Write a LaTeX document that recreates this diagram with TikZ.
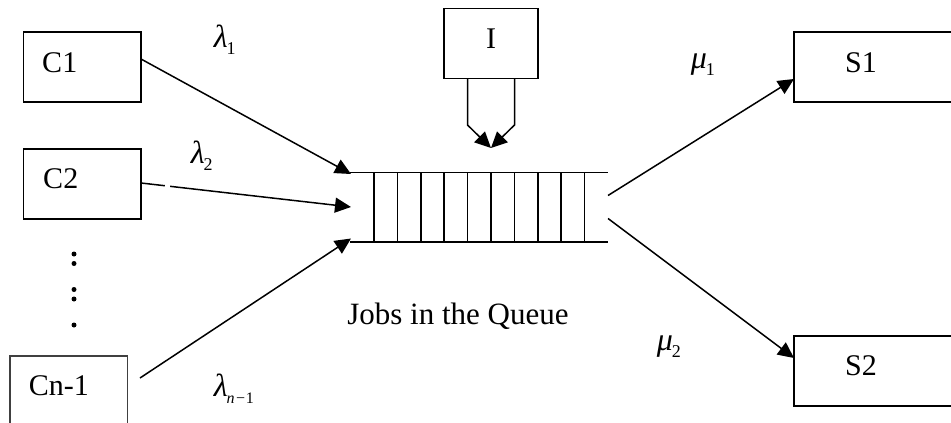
\documentclass[tikz,border=0pt]{standalone}
\usepackage{fontspec}
\setmainfont{Liberation Serif}
\usetikzlibrary{arrows.meta}
\newcommand{\boxtxt}{\fontsize{30}{32}\selectfont}
\newcommand{\greek}[3]{{\fontsize{32}{32}\selectfont\itshape #1}\kern-1pt\raisebox{-7.5pt}{\fontsize{#2}{19}\selectfont #3}}
\tikzset{
  x=1pt,y=-1pt,
  boxn/.style={draw=black,fill=white,inner sep=0pt,outer sep=0pt,anchor=north west},
  cbox/.style={boxn,minimum width=117.5pt,minimum height=70pt},
  sbox/.style={boxn,minimum width=170pt,minimum height=70pt},
  ibox/.style={boxn,minimum width=94pt,minimum height=70pt},
  arr/.style={-{Triangle[length=16pt,width=15pt]}},
  plain/.style={inner sep=0pt,anchor=center,font=\boxtxt,text height=20pt,text depth=0pt},
  gk/.style={inner sep=0pt,anchor=base west},
  qline/.style={line width=1.6pt},
  dotn/.style={circle,fill=black,draw=none,minimum size=5pt,inner sep=0pt}
}
\begin{document}
\begin{tikzpicture}[line width=1.5pt]
\useasboundingbox (0,0) rectangle (951,423);
\fill[white] (0,0) rectangle (951,423);
% boxes
\node[cbox,label={[plain,xshift=-22.5pt,yshift=5pt]center:C1}] (c1) at (23.5,32) {};
\node[cbox,label={[plain,xshift=-21.5pt,yshift=6pt]center:C2}] (c2) at (23.5,149) {};
\node[cbox,minimum height=90pt,draw=black!75,label={[plain,xshift=-10pt,yshift=16pt]center:Cn-1}] (cn) at (10,356) {};
\node[ibox,label={[plain,yshift=5.5pt]center:I}] (i) at (444,8.5) {};
\node[sbox,label={[plain,xshift=-18pt,yshift=5pt]center:S1}] (s1) at (794,32) {};
\node[sbox,label={[plain,xshift=-18pt,yshift=6pt]center:S2}] (s2) at (794,336) {};
% queue
\coordinate (qtl) at (350,172.3);
\coordinate (qtr) at (608,172.3);
\coordinate (qbl) at (350,241.8);
\coordinate (qbr) at (608,241.8);
\draw[qline] (qtl) -- (qtr);
\draw[qline] (qbl) -- (qbr);
\foreach \x in {374,397.4,420.8,444.2,467.6,491,514.4,537.8,561.2,584.6}
  \draw[qline] (\x,172.3) -- (\x,241.8);
% dots
\node[dotn] (d1) at (74,254) {};
\node[dotn] (d2) at (74,263.5) {};
\node[dotn] (d3) at (74,289.5) {};
\node[dotn] (d4) at (74,299) {};
\node[dotn] (d5) at (74,325) {};
% connector end points
\coordinate (c1s) at (141,59);
\coordinate (c1e) at (351,174);
\coordinate (c2s) at (141,183);
\coordinate (c2e) at (351,207);
\coordinate (cns) at (140,378);
\coordinate (cne) at (351,238.5);
\coordinate (q1) at (608,195.5);
\coordinate (q2) at (608,218.5);
\coordinate (s1e) at (794,79);
\coordinate (s2e) at (794,358);
\coordinate (feed) at (491,148);
\coordinate (fl) at (467.5,125);
\coordinate (fr) at (514.5,125);
\coordinate (il) at (467.5,78);
\coordinate (ir) at (514.5,78);
\draw[arr] (c1s) -- (c1e);
\draw[arr] (c2s) -- (c2e);
\draw[arr] (cns) -- (cne);
\draw[arr] (q1) -- (s1e);
\draw[arr] (q2) -- (s2e);
\draw[arr] (il) -- (fl) -- (feed);
\draw[arr] (ir) -- (fr) -- (feed);
% small break in the C2 connector
\fill[white] (164.5,180) rectangle (169.5,190);
% labels
\node[anchor=base,inner sep=0pt,font=\fontsize{31}{33}\selectfont] (q) at (458,324) {Jobs in the Queue};
\node[gk] (l1) at (213,47) {\greek{λ}{18}{1}};
\node[gk] (l2) at (190,163) {\greek{λ}{18}{2}};
\node[gk] (ln) at (213,396) {\greek{λ}{16}{\itshape n\kern0.5pt−\upshape 1}};
\node[gk] (m1) at (690,68) {\greek{μ}{18}{1}};
\node[gk] (m2) at (656,350) {\greek{μ}{18}{2}};
\end{tikzpicture}
\end{document}
